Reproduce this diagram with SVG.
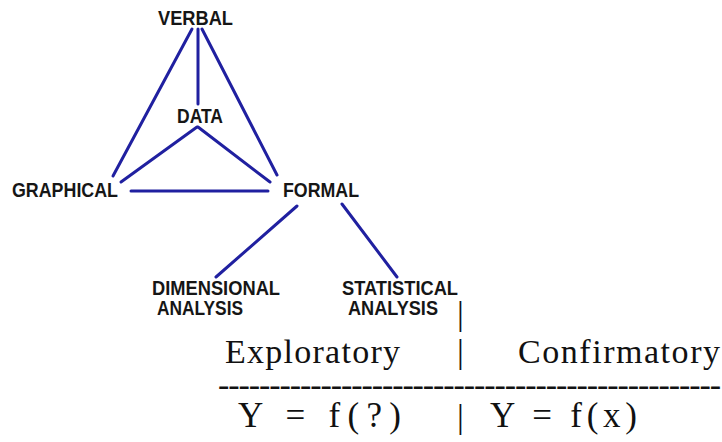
<svg xmlns="http://www.w3.org/2000/svg" width="722" height="442" viewBox="0 0 722 442">
<style>
.lbl{font-family:"Liberation Sans",Arial,sans-serif;font-weight:bold;font-size:20px;fill:#161616}
.tx{font-family:"Liberation Serif","Times New Roman",serif;font-size:34px;fill:#111}
.fx{font-family:"Liberation Serif","Times New Roman",serif;font-size:35px;fill:#111}
.edge{stroke:#2020a0;stroke-width:3;stroke-linecap:round;fill:none}
</style>
<rect width="722" height="442" fill="#fff"/>
<g id="connectors">
<line class="edge" x1="192" y1="29" x2="113" y2="176"/>
<line class="edge" x1="198" y1="29" x2="198" y2="104"/>
<line class="edge" x1="202" y1="29" x2="277" y2="175"/>
<line class="edge" x1="197" y1="127" x2="121" y2="182"/>
<line class="edge" x1="198" y1="127" x2="270" y2="182"/>
<line class="edge" x1="131" y1="191" x2="268" y2="191"/>
<line class="edge" x1="297" y1="206" x2="216" y2="277"/>
<line class="edge" x1="342" y1="204" x2="397" y2="277"/>
</g>
<g id="verbal"><text class="lbl" x="158" y="25" textLength="75" lengthAdjust="spacingAndGlyphs">VERBAL</text></g>
<g id="data"><text class="lbl" x="177" y="123" textLength="46" lengthAdjust="spacingAndGlyphs">DATA</text></g>
<g id="graphical"><text class="lbl" x="12" y="197" textLength="106" lengthAdjust="spacingAndGlyphs">GRAPHICAL</text></g>
<g id="formal"><text class="lbl" x="283" y="197" textLength="76" lengthAdjust="spacingAndGlyphs">FORMAL</text></g>
<g id="dimensional"><text class="lbl" x="152" y="295" textLength="128" lengthAdjust="spacingAndGlyphs">DIMENSIONAL</text><text class="lbl" x="157" y="315" textLength="86" lengthAdjust="spacingAndGlyphs">ANALYSIS</text></g>
<g id="statistical"><text class="lbl" x="342" y="295" textLength="116" lengthAdjust="spacingAndGlyphs">STATISTICAL</text><text class="lbl" x="348" y="315" textLength="90" lengthAdjust="spacingAndGlyphs">ANALYSIS</text></g>
<g id="table">
<text class="tx" x="457" y="325">|</text>
<text class="tx" x="225" y="363" textLength="175">Exploratory</text>
<text class="tx" x="457" y="363">|</text>
<text class="tx" x="518" y="363" textLength="202">Confirmatory</text>
<text class="tx" x="218" y="396" font-size="31" textLength="503">-------------------------------------------------</text>
<text class="fx" x="238" y="427" textLength="163">Y = f(?)</text>
<text class="tx" x="457" y="428">|</text>
<text class="fx" x="490" y="427" textLength="147">Y = f(x)</text>
</g>
</svg>
